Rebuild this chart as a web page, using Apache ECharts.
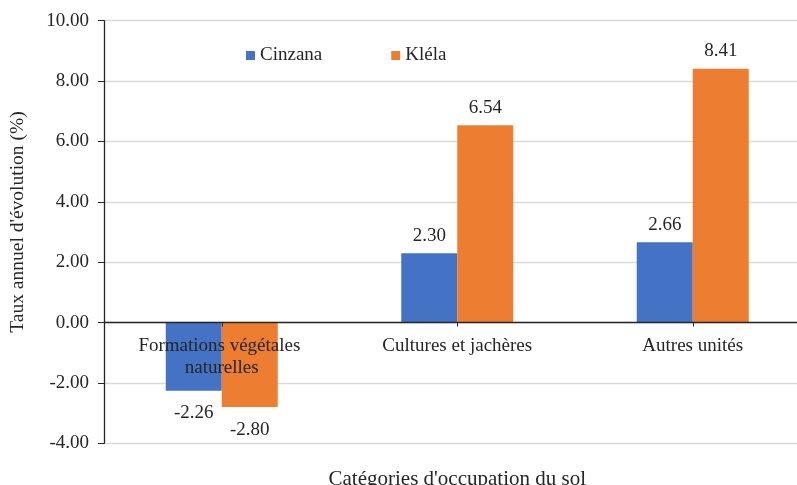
<!DOCTYPE html>
<html>
<head>
<meta charset="utf-8">
<script src="https://cdn.jsdelivr.net/npm/echarts@6/dist/echarts.min.js"></script>
<style>
  html, body { margin: 0; padding: 0; background: #fff; }
  #chart { width: 797px; height: 485px; }
</style>
</head>
<body>
<div id="chart"></div>
<script>
// Land-cover categories and annual change rates (%) for the two sites
const categories = ['Formations végétales naturelles', 'Cultures et jachères', 'Autres unités'];
const cinzana = [-2.26, 2.30, 2.66];
const klela = [-2.80, 6.54, 8.41];
const yTicks = { min: -4, max: 10, interval: 2 };

const FONT = 'Liberation Serif';
const TEXT = '#262626';

// Plot area geometry
const GRID = { left: 104, top: 20.7, bottom: 41.7, right: -13.5 };
const plotHeight = 485 - GRID.top - GRID.bottom;
// Category axis sits on the zero line of the value axis
const zeroOffset = plotHeight * (0 - yTicks.min) / (yTicks.max - yTicks.min);

function barLabel() {
  return {
    show: true,
    fontFamily: FONT,
    fontSize: 19,
    color: TEXT,
    distance: 8,
    formatter: p => p.value.toFixed(2)
  };
}

function seriesData(values) {
  return values.map(v => ({
    value: v,
    label: v < 0 ? { position: 'bottom', distance: 13 } : { position: 'top' }
  }));
}

const chart = echarts.init(document.getElementById('chart'), null, { renderer: 'canvas' });
chart.setOption({
  animation: false,
  textStyle: { fontFamily: FONT },
  legend: {
    left: 246,
    top: 46,
    padding: 0,
    itemWidth: 9,
    itemHeight: 9,
    itemGap: 69,
    icon: 'rect',
    textStyle: { fontFamily: FONT, fontSize: 19, color: TEXT },
    data: ['Cinzana', 'Kléla']
  },
  grid: Object.assign({ containLabel: false, outerBoundsMode: 'none' }, GRID),
  xAxis: {
    type: 'category',
    data: categories,
    offset: -zeroOffset,
    z: 5,
    name: "Catégories d'occupation du sol",
    nameLocation: 'middle',
    nameGap: 146,
    nameTextStyle: { fontFamily: FONT, fontSize: 21, color: TEXT },
    axisLine: { onZero: false, lineStyle: { color: '#262626', width: 1.3 } },
    axisTick: { show: true, alignWithLabel: true, length: 4, lineStyle: { color: '#262626' } },
    axisLabel: {
      fontFamily: FONT, fontSize: 19, color: TEXT, margin: 12,
      width: 200, overflow: 'break', lineHeight: 22, interval: 0
    },
    splitLine: { show: false }
  },
  yAxis: {
    type: 'value',
    min: yTicks.min,
    max: yTicks.max,
    interval: yTicks.interval,
    name: "Taux annuel d'évolution (%)",
    nameLocation: 'middle',
    nameGap: 76,
    nameTextStyle: { fontFamily: FONT, fontSize: 19.5, color: TEXT, padding: [0, 0, 0, 20] },
    axisLine: { show: true, lineStyle: { color: '#262626', width: 1.3 } },
    axisTick: { show: true, length: 6, lineStyle: { color: '#262626' } },
    axisLabel: {
      fontFamily: FONT, fontSize: 19, color: TEXT, margin: 15,
      formatter: v => v.toFixed(2)
    },
    splitLine: { show: true, lineStyle: { color: '#d9d9d9', width: 1.3 } }
  },
  series: [
    {
      name: 'Cinzana',
      type: 'bar',
      data: seriesData(cinzana),
      barWidth: 56,
      barGap: '0%',
      itemStyle: { color: '#4472C4' },
      label: barLabel()
    },
    {
      name: 'Kléla',
      type: 'bar',
      data: seriesData(klela),
      barWidth: 56,
      barGap: '0%',
      itemStyle: { color: '#ED7D31' },
      label: barLabel()
    }
  ]
});
</script>
</body>
</html>
